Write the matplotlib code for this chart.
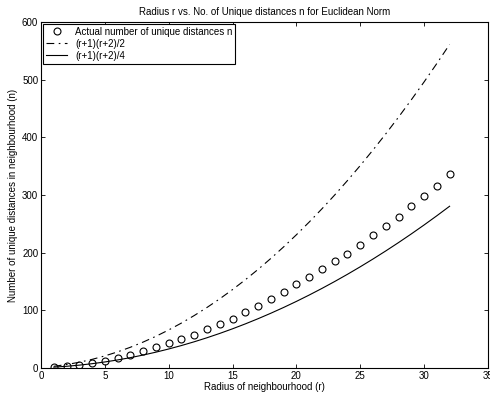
import matplotlib
matplotlib.use("Agg")
import matplotlib.pyplot as plt

plt.rcParams["font.family"] = ["Liberation Sans", "DejaVu Sans"]
plt.rcParams["font.size"] = 7

radius = list(range(1, 33))
actual = [1, 3, 5, 9, 13, 18, 23, 30, 36, 43, 51, 58, 68, 77, 85, 97,
          108, 120, 131, 145, 157, 172, 185, 198, 214, 231, 246, 262, 281, 298, 316, 336]
upper = [3, 6, 10, 15, 21, 28, 36, 45, 55, 66, 78, 91, 105, 120, 136, 153,
         171, 190, 210, 231, 253, 276, 300, 325, 351, 378, 406, 435, 465, 496, 528, 561]
lower = [v / 2 for v in upper]

fig = plt.figure(figsize=(4.9, 3.97), dpi=100)
ax = fig.add_axes([0.0837, 0.073, 0.912, 0.8716])

ax.plot(radius, actual, "o", mfc="none", mec="black", ms=5, mew=0.8,
        label="Actual number of unique distances n")
ax.plot(radius, upper, color="black", lw=0.8, dashes=(7, 4, 1.5, 4),
        label="(r+1)(r+2)/2")
ax.plot(radius, lower, "-", color="black", lw=0.8, label="(r+1)(r+2)/4")

ax.set_xlim(0, 35)
ax.set_ylim(0, 600)
ax.set_xticks(range(0, 36, 5))
ax.set_yticks(range(0, 601, 100))
ax.tick_params(direction="in", top=True, right=True, length=3, width=0.6, pad=2)
for s in ax.spines.values():
    s.set_linewidth(0.8)

ax.set_title("Radius r vs. No. of Unique distances n for Euclidean Norm", fontsize=7, pad=5)
ax.set_xlabel("Radius of neighbourhood (r)", labelpad=1)
ax.set_ylabel("Number of unique distances in neighbourhood (n)", labelpad=3)

leg = ax.legend(loc="upper left", fancybox=False, edgecolor="black", framealpha=1,
                borderaxespad=0.2, handlelength=2.2, labelspacing=0.2, borderpad=0.3)
leg.get_frame().set_linewidth(0.8)

fig.savefig("out.png", dpi=100)
